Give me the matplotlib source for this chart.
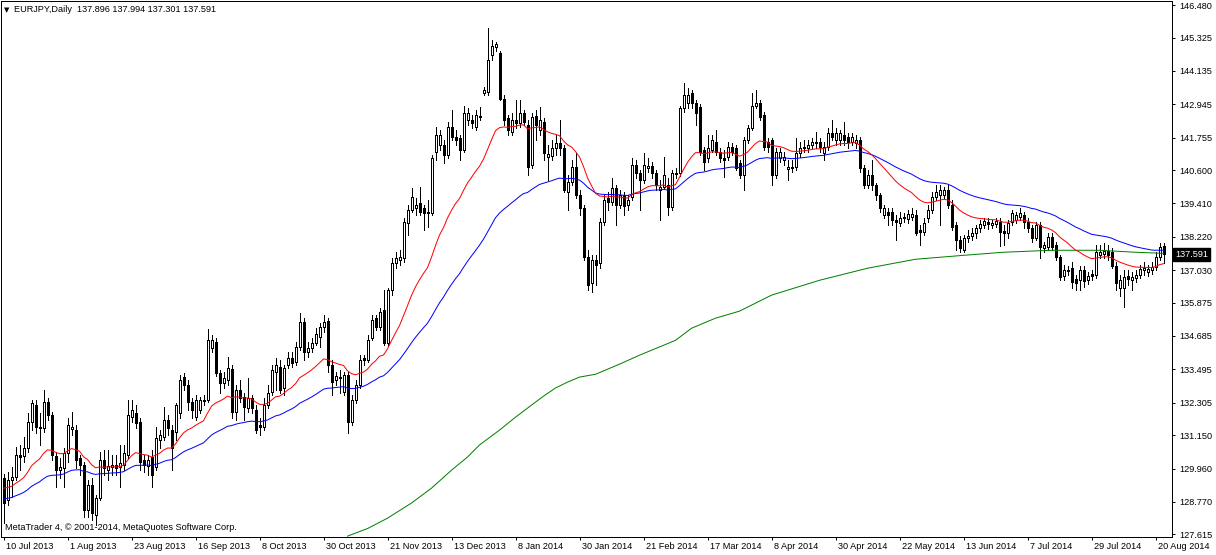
import numpy as np
import matplotlib
matplotlib.use("Agg")
import matplotlib.pyplot as plt
from matplotlib import transforms

# ---------------- data (EURJPY daily) ----------------
opens = [129.62,128.84,129.55,129.66,130.44,130.40,130.69,131.61,132.22,131.44,
131.40,132.33,131.86,130.40,129.91,129.97,130.51,131.37,131.33,130.33,
130.08,128.48,129.37,128.30,128.91,130.26,129.91,130.01,130.08,130.01,
130.08,130.44,131.79,131.93,131.61,130.26,130.05,130.37,130.01,130.97,
131.08,131.69,131.33,131.26,131.93,133.22,132.93,132.33,131.79,132.04,
132.40,132.40,134.25,134.46,133.36,133.00,133.11,133.50,131.97,132.75,
132.51,132.11,132.47,132.04,131.51,131.44,132.22,132.68,133.40,133.57,
132.83,133.64,133.89,133.75,134.29,135.18,134.11,134.25,134.43,134.64,
134.99,135.21,133.64,133.11,133.18,132.68,133.29,131.61,132.40,132.93,
133.89,133.82,134.61,135.32,134.99,135.60,134.43,136.32,137.28,137.38,
137.46,138.70,139.17,139.24,139.41,139.24,139.09,139.06,141.23,141.48,
141.48,141.12,142.12,141.77,141.73,141.30,142.37,142.37,142.12,142.51,
143.33,143.37,144.69,144.97,144.76,143.15,142.44,141.94,142.37,142.26,
142.62,142.19,140.77,142.51,142.01,142.30,141.05,141.09,141.37,141.55,
141.37,139.81,140.16,140.70,139.70,139.24,137.49,136.57,137.38,137.28,
138.74,139.59,139.45,139.95,139.34,139.70,139.34,139.63,140.77,140.48,
140.23,140.66,140.73,140.48,139.88,139.98,140.06,139.27,140.48,140.48,
142.80,142.98,143.33,142.98,142.83,141.30,141.02,141.30,141.59,141.23,
141.02,141.05,141.41,141.37,140.84,140.41,141.66,142.09,142.87,142.98,
142.55,141.59,141.66,140.41,141.02,140.95,140.63,140.70,140.70,141.19,
141.37,141.37,141.48,141.59,141.59,141.19,141.41,141.91,141.66,141.66,
141.84,141.77,141.59,141.55,141.66,140.66,140.06,140.41,140.06,139.70,
138.99,139.09,139.09,138.81,138.70,138.88,138.84,138.92,138.99,138.45,
138.38,138.88,139.17,139.63,139.70,139.70,139.88,139.34,138.63,138.10,
137.74,138.17,138.24,138.35,138.52,138.63,138.74,138.63,138.67,138.74,
138.42,138.35,138.74,138.81,138.92,138.99,138.74,138.52,138.17,138.63,
137.81,137.85,138.20,137.92,137.49,136.81,137.03,137.10,136.71,136.67,
137.03,136.67,136.88,136.85,137.56,137.60,137.71,137.67,137.17,136.39,
136.39,136.81,136.67,136.74,136.85,137.03,136.96,137.03,137.13,137.49,
137.896]
highs = [129.76,129.83,130.01,130.72,130.80,131.08,131.93,132.40,132.40,131.93,
132.75,132.47,131.97,130.55,130.33,130.69,131.76,131.97,131.51,130.44,
130.19,129.55,129.62,129.01,130.55,130.62,130.62,130.44,130.44,130.80,
130.80,132.40,132.40,132.22,131.76,130.44,130.44,130.62,131.44,131.33,
132.15,131.86,131.51,132.29,133.29,133.36,133.11,132.47,132.58,132.51,
132.58,134.93,134.71,134.61,133.47,133.39,133.93,133.64,132.93,133.11,
132.65,133.18,132.58,132.22,131.76,132.47,132.93,133.64,133.89,133.82,
133.64,134.11,134.11,134.46,135.50,135.32,134.46,134.61,134.96,135.14,
135.43,135.32,133.82,133.39,133.47,133.39,133.39,132.58,133.11,134.00,
134.00,134.71,135.43,135.43,135.67,136.32,136.39,137.46,137.67,137.74,
138.88,139.34,139.95,139.59,139.98,139.34,139.52,141.12,142.12,142.01,
141.66,142.30,142.73,142.01,141.84,142.90,142.80,142.55,142.73,142.83,
143.55,145.65,145.22,145.15,144.86,143.26,142.55,142.62,143.08,143.08,
142.73,142.37,142.62,142.73,142.83,142.44,141.48,141.66,141.84,142.37,
141.48,140.41,140.95,141.19,139.88,139.34,137.74,137.56,137.56,138.88,
139.70,139.81,140.30,140.06,139.88,139.81,139.70,141.02,140.95,140.59,
141.19,141.02,140.88,140.59,140.23,141.05,140.30,140.59,140.66,142.90,
143.72,143.51,143.44,143.08,142.94,141.41,141.84,141.84,142.01,141.37,
141.30,141.59,141.55,141.48,140.95,141.77,142.19,143.33,143.44,143.08,
142.66,141.73,141.73,141.37,141.37,141.23,140.95,140.95,141.73,141.59,
141.66,141.66,141.73,141.94,141.73,141.59,142.09,142.37,142.09,142.01,
142.30,141.91,141.91,141.84,141.77,140.77,140.59,140.95,140.13,139.77,
139.34,139.24,139.24,138.99,139.09,139.06,139.17,139.24,139.17,138.63,
138.88,139.34,139.81,140.06,140.06,139.98,140.06,139.52,138.74,138.24,
138.27,138.45,138.52,138.63,138.81,138.88,138.88,138.81,138.88,138.88,
138.63,138.81,139.17,139.09,139.24,139.09,138.88,138.63,138.74,138.74,
138.02,138.35,138.35,138.02,137.56,137.20,137.17,137.31,136.85,137.17,
137.17,136.96,137.03,137.92,137.92,137.99,137.92,137.81,137.31,136.85,
137.03,137.03,136.96,137.03,137.20,137.31,137.20,137.31,137.67,137.99,
137.994]
lows = [128.02,128.66,128.94,129.55,129.91,130.19,130.55,131.33,131.22,130.80,
131.26,131.69,130.26,129.30,129.62,129.30,130.19,131.15,129.98,129.73,
128.23,128.23,128.12,127.95,128.84,129.73,129.55,129.73,129.73,129.30,
129.91,130.33,131.61,131.40,129.91,129.83,129.73,129.30,129.91,130.69,
130.97,131.15,129.91,130.97,131.76,132.75,132.04,131.76,131.69,131.93,
132.22,132.33,134.11,133.25,132.65,132.83,132.93,131.76,131.69,132.33,
131.69,131.97,131.93,131.22,131.15,131.33,132.11,132.58,132.75,132.65,
132.58,133.54,133.57,133.64,134.18,133.82,133.93,134.11,134.36,134.29,
134.82,133.39,132.58,132.93,132.65,132.58,131.22,131.51,132.29,132.83,
133.64,133.75,134.53,134.89,134.89,134.36,134.32,136.14,137.10,137.21,
137.31,138.27,139.09,138.99,138.99,138.45,138.56,138.99,140.95,141.30,
140.84,141.02,141.66,141.48,140.95,141.23,142.19,142.09,142.01,142.37,
143.26,143.26,144.51,144.86,143.08,142.19,141.84,141.84,142.09,142.12,
142.19,140.41,140.66,141.66,141.84,140.95,140.23,140.95,141.12,141.12,
139.81,139.16,140.06,139.59,138.99,137.38,136.32,136.24,136.49,137.10,
138.63,139.17,139.34,138.63,139.24,138.99,139.17,139.52,140.30,139.17,
140.13,140.52,140.30,139.88,138.81,139.95,138.99,139.17,140.30,140.38,
142.66,142.80,142.80,142.19,141.12,140.59,140.87,141.23,141.12,140.88,
140.34,140.95,141.12,140.59,140.30,139.88,141.55,142.01,142.80,142.37,
141.30,141.23,140.06,140.30,140.88,140.77,140.23,140.52,140.59,141.05,
141.23,141.23,141.37,141.37,141.23,140.95,141.30,141.66,141.48,141.48,
141.48,141.37,141.48,141.37,140.52,139.95,139.95,139.88,139.52,139.09,
138.88,138.63,138.63,138.10,138.60,138.74,138.70,138.81,138.27,137.92,
138.27,138.74,139.06,139.52,138.63,139.59,139.24,138.45,137.74,137.67,
137.67,138.03,138.10,138.17,138.38,138.52,138.49,138.52,138.56,137.88,
137.92,138.17,138.63,138.70,138.81,138.52,138.38,138.03,138.10,137.46,
137.67,137.74,137.74,137.38,136.67,136.67,136.85,136.39,136.32,136.32,
136.42,136.53,136.67,136.74,137.46,137.46,137.38,137.10,136.32,136.10,
135.71,136.49,136.32,136.60,136.74,136.85,136.81,136.88,137.03,137.38,
137.301]
closes = [128.73,129.55,129.66,130.44,130.37,130.69,131.61,132.29,131.44,131.40,
132.33,131.86,130.44,129.91,130.01,130.51,131.51,131.44,130.26,130.08,
128.48,129.37,128.37,128.91,130.26,129.98,130.05,130.08,129.98,130.15,
130.51,131.86,132.04,131.58,130.19,130.08,130.26,129.73,131.05,131.15,
131.69,131.40,130.69,132.22,133.11,132.93,132.33,132.04,132.40,132.40,
132.38,134.53,134.53,133.36,133.00,133.18,133.54,131.97,132.75,132.47,
132.15,132.47,132.11,131.33,131.44,132.22,132.65,133.47,133.64,132.75,
133.54,133.89,133.72,134.29,135.18,134.11,134.25,134.43,134.75,134.99,
135.18,133.64,133.04,133.25,133.22,133.29,131.61,132.40,132.93,133.82,
133.82,134.53,135.25,134.99,135.53,134.43,136.32,137.28,137.46,137.49,
138.74,139.17,139.63,139.34,139.09,139.06,139.06,141.02,141.84,141.84,
141.12,142.12,141.77,141.66,141.30,142.63,142.63,142.26,142.55,142.50,
143.44,144.51,145.01,145.08,143.15,142.37,142.01,142.37,142.26,142.62,
142.30,140.70,142.48,142.19,142.37,141.19,141.16,141.37,141.55,141.37,
139.88,140.16,140.70,139.70,139.24,137.49,136.49,137.38,137.21,138.74,
139.52,139.45,139.95,139.34,139.70,139.31,139.52,140.77,140.48,140.23,
140.77,140.73,140.48,140.06,139.98,140.41,139.27,140.48,140.45,142.80,
143.26,143.26,142.98,142.63,141.23,140.87,141.37,141.66,141.23,141.02,
140.95,141.41,141.23,140.66,140.41,141.66,142.09,142.90,142.98,142.48,
141.41,141.41,140.41,141.23,141.23,141.05,140.70,140.68,141.19,141.37,
141.41,141.48,141.59,141.55,141.41,141.41,141.91,141.77,141.91,141.91,
141.66,141.59,141.77,141.66,140.66,140.06,140.41,140.06,139.70,139.24,
139.24,138.99,138.81,138.74,138.88,138.92,139.02,139.02,138.34,138.38,
138.70,139.17,139.63,139.81,139.88,139.88,139.34,138.56,138.10,137.81,
138.17,138.24,138.35,138.52,138.67,138.77,138.67,138.70,138.77,138.38,
138.35,138.70,139.06,138.99,139.06,138.74,138.52,138.17,138.63,137.85,
137.92,138.20,137.85,137.49,136.78,137.03,137.01,136.60,136.57,137.03,
136.64,136.81,136.81,137.67,137.67,137.71,137.56,137.17,136.57,136.67,
136.78,136.71,136.78,136.85,137.06,137.10,137.06,137.13,137.49,137.85,
137.591]

# exponential moving averages: periods and their values at the first visible bar
red_period, red_start = 20, 129.26
blue_period, blue_start = 50, 128.87
# 200-period average (its history is off-screen): values
green_idx = [86, 91, 96, 102, 107, 112, 116, 119, 124, 128, 132, 135, 138, 141, 144,
             148, 154, 159, 168, 172, 178, 184, 192, 204, 216, 228, 240, 250, 262,
             274, 283, 290]
green_val = [127.55, 127.82, 128.19, 128.73, 129.26, 129.90, 130.37, 130.80, 131.33,
             131.79, 132.22, 132.54, 132.83, 133.04, 133.22, 133.32, 133.68, 134.00,
             134.53, 134.96, 135.32, 135.57, 136.14, 136.67, 137.10, 137.42, 137.56,
             137.67, 137.74, 137.74, 137.67, 137.63]

date_labels = ["10 Jul 2013", "1 Aug 2013", "23 Aug 2013", "16 Sep 2013", "8 Oct 2013",
               "30 Oct 2013", "21 Nov 2013", "13 Dec 2013", "8 Jan 2014", "30 Jan 2014",
               "21 Feb 2014", "17 Mar 2014", "8 Apr 2014", "30 Apr 2014", "22 May 2014",
               "13 Jun 2014", "7 Jul 2014", "29 Jul 2014", "20 Aug 2014"]
date_bar_index = [0, 16, 32, 48, 64, 80, 96, 112, 128, 144, 160, 176, 192, 208, 224,
                  240, 256, 272, 288]
price_labels = ["146.480", "145.325", "144.135", "142.945", "141.755", "140.600",
                "139.410", "138.220", "137.030", "135.875", "134.685", "133.495",
                "132.305", "131.150", "129.960", "128.770", "127.615"]
last_price = "137.591"
title_text = "EURJPY,Daily  137.896 137.994 137.301 137.591"
credit_text = "MetaTrader 4, \u00a9 2001-2014, MetaQuotes Software Corp."


def ema(values, period, start):
    a = 2.0 / (period + 1)
    out = [start]
    for v in values[1:]:
        out.append(out[-1] + a * (v - out[-1]))
    return np.array(out)


# ---------------- figure ----------------
W, H = 1216, 555
fig = plt.figure(figsize=(W / 100, H / 100), dpi=100)
fig.patch.set_facecolor("white")
ax_left, ax_right, ax_top, ax_bot = 0.5, 1172, 0.5, 537
ax = fig.add_axes([ax_left / W, 1 - ax_bot / H, (ax_right - ax_left) / W, (ax_bot - ax_top) / H])
ax.set_facecolor("white")

o = np.array(opens); h = np.array(highs); l = np.array(lows); c = np.array(closes)
n = len(c)
x = np.arange(n)

lw = 0.72
ax.vlines(x, l, h, color="black", linewidth=lw, zorder=2, antialiased=False)
bull = c >= o
bottoms = np.minimum(o, c)
heights = np.abs(c - o)
ax.bar(x[bull], heights[bull], bottom=bottoms[bull], width=0.5, color="white",
       edgecolor="black", linewidth=lw, zorder=3, antialiased=False)
ax.bar(x[~bull], heights[~bull], bottom=bottoms[~bull], width=0.5, color="black",
       edgecolor="black", linewidth=lw, zorder=3, antialiased=False)

red_ma = ema(c, red_period, red_start)
blue_ma = ema(c, blue_period, blue_start)
mlw = 0.72
ax.plot(green_idx, green_val, color="#008000", linewidth=mlw, zorder=4, antialiased=True)
ax.plot(x, blue_ma, color="#0000FF", linewidth=mlw, zorder=4, antialiased=True)
ax.plot(x, red_ma, color="#FF0000", linewidth=mlw, zorder=4, antialiased=True)

ymin, ymax = 127.519, 146.644
ax.set_ylim(ymin, ymax)
ax.set_xlim(-0.75, -0.75 + (ax_right - ax_left) / 4.0)

for s in ax.spines.values():
    s.set_linewidth(lw)
    s.set_color("black")

font = ["Liberation Sans", "DejaVu Sans"]
fs = 6.6

ax.yaxis.tick_right()
ax.set_yticks([float(v) for v in price_labels])
ax.set_yticklabels(price_labels, fontsize=fs, family=font)
ax.tick_params(axis="y", direction="out", length=2.5, width=lw, pad=2.5, colors="black")

ax.set_xticks(date_bar_index)
ax.set_xticklabels([])
ax.tick_params(axis="x", direction="out", length=2.5, width=lw)
tr = transforms.offset_copy(ax.get_xaxis_transform(), fig=fig, x=2, y=-5, units="dots")
for xi, lab in zip(date_bar_index, date_labels):
    ax.text(xi, 0, lab, transform=tr, ha="left", va="top", fontsize=fs, family=font,
            color="black")

tag_tr = transforms.offset_copy(transforms.blended_transform_factory(ax.transAxes, ax.transData),
                                fig=fig, x=3, y=0, units="dots")
ax.text(1.0, float(last_price), last_price, transform=tag_tr, ha="left", va="center",
        fontsize=fs, family=font, color="white", clip_on=False,
        bbox=dict(boxstyle="square,pad=0.25", fc="black", ec="black"))

fig.text(4 / W, 1 - 10 / H, "\u25bc", fontsize=5, family="DejaVu Sans", va="center", ha="left")
fig.text(14 / W, 1 - 10 / H, title_text, fontsize=fs, family=font, va="center", ha="left")
fig.text(5 / W, 1 - 528 / H, credit_text, fontsize=fs, family=font, va="center", ha="left")

fig.savefig("out.png", dpi=100, facecolor="white")
